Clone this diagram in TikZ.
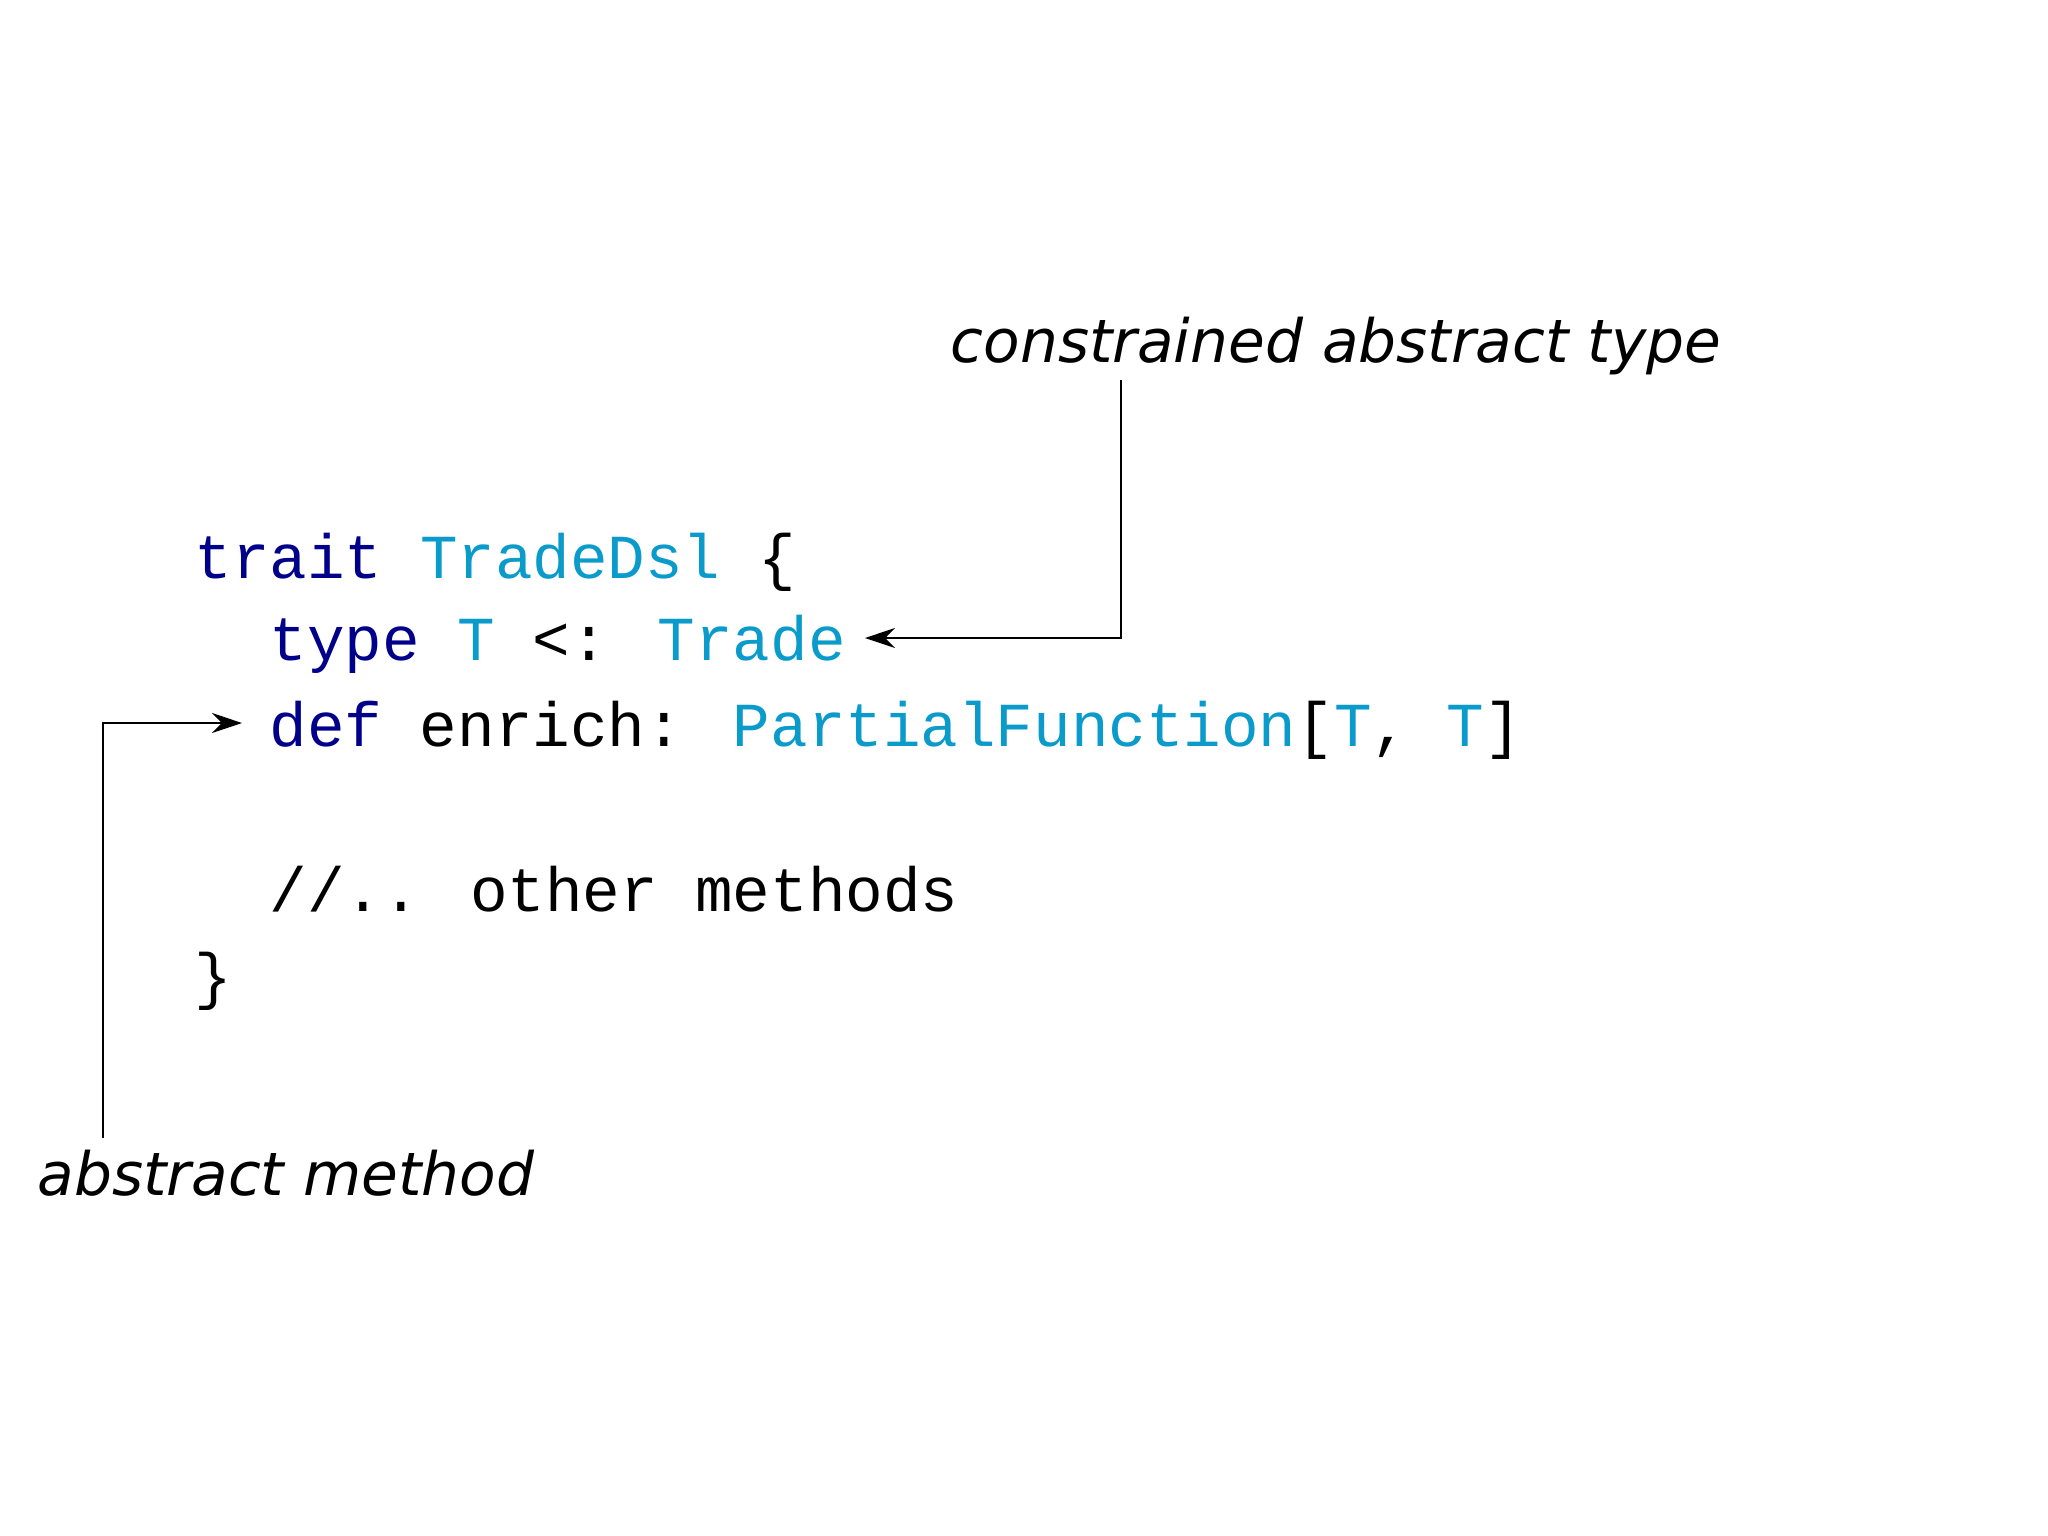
\documentclass[tikz,border=0pt]{standalone}
\usepackage{fontspec}
\setmainfont{DejaVu Sans}
\newfontfamily\codefont{Liberation Mono}
\usetikzlibrary{arrows.meta}
\definecolor{kw}{HTML}{00008B}
\definecolor{ty}{HTML}{0A9BCB}
\begin{document}
\begin{tikzpicture}[x=0.01cm,y=-0.01cm,
  code/.style={anchor=base west,inner sep=0,font=\codefont\fontsize{17.8pt}{20pt}\selectfont},
  note/.style={anchor=base west,inner sep=0,font=\itshape\fontsize{17pt}{20pt}\selectfont},
  conn/.style={line width=0.7pt,-{Stealth[length=3mm,width=2mm]}}]
\useasboundingbox (0,0) rectangle (2048,1536);
\node[code] (l1) at (194,578) {\textcolor{kw}{trait} \textcolor{ty}{TradeDsl} \{};
\node[code] (l2) at (269,660) {\textcolor{kw}{type} \textcolor{ty}{T} <: \textcolor{ty}{Trade}};
\node[code] (l3) at (269,746) {\textcolor{kw}{def} enrich: \textcolor{ty}{PartialFunction}[\textcolor{ty}{T}, \textcolor{ty}{T}]};
\node[code] (l5) at (269,911) {//.. other methods};
\node[code] (l6) at (194,997) {\}};
\node[note] (n1) at (950,362) {constrained abstract type};
\node[note] (n2) at (37,1195) {abstract method};
\coordinate (a1) at (1121,380);
\coordinate (t1) at (865,638);
\coordinate (a2) at (103,1138);
\coordinate (t2) at (242,723);
\draw[conn] (a1) |- (t1);
\draw[conn] (a2) |- (t2);
\end{tikzpicture}
\end{document}
